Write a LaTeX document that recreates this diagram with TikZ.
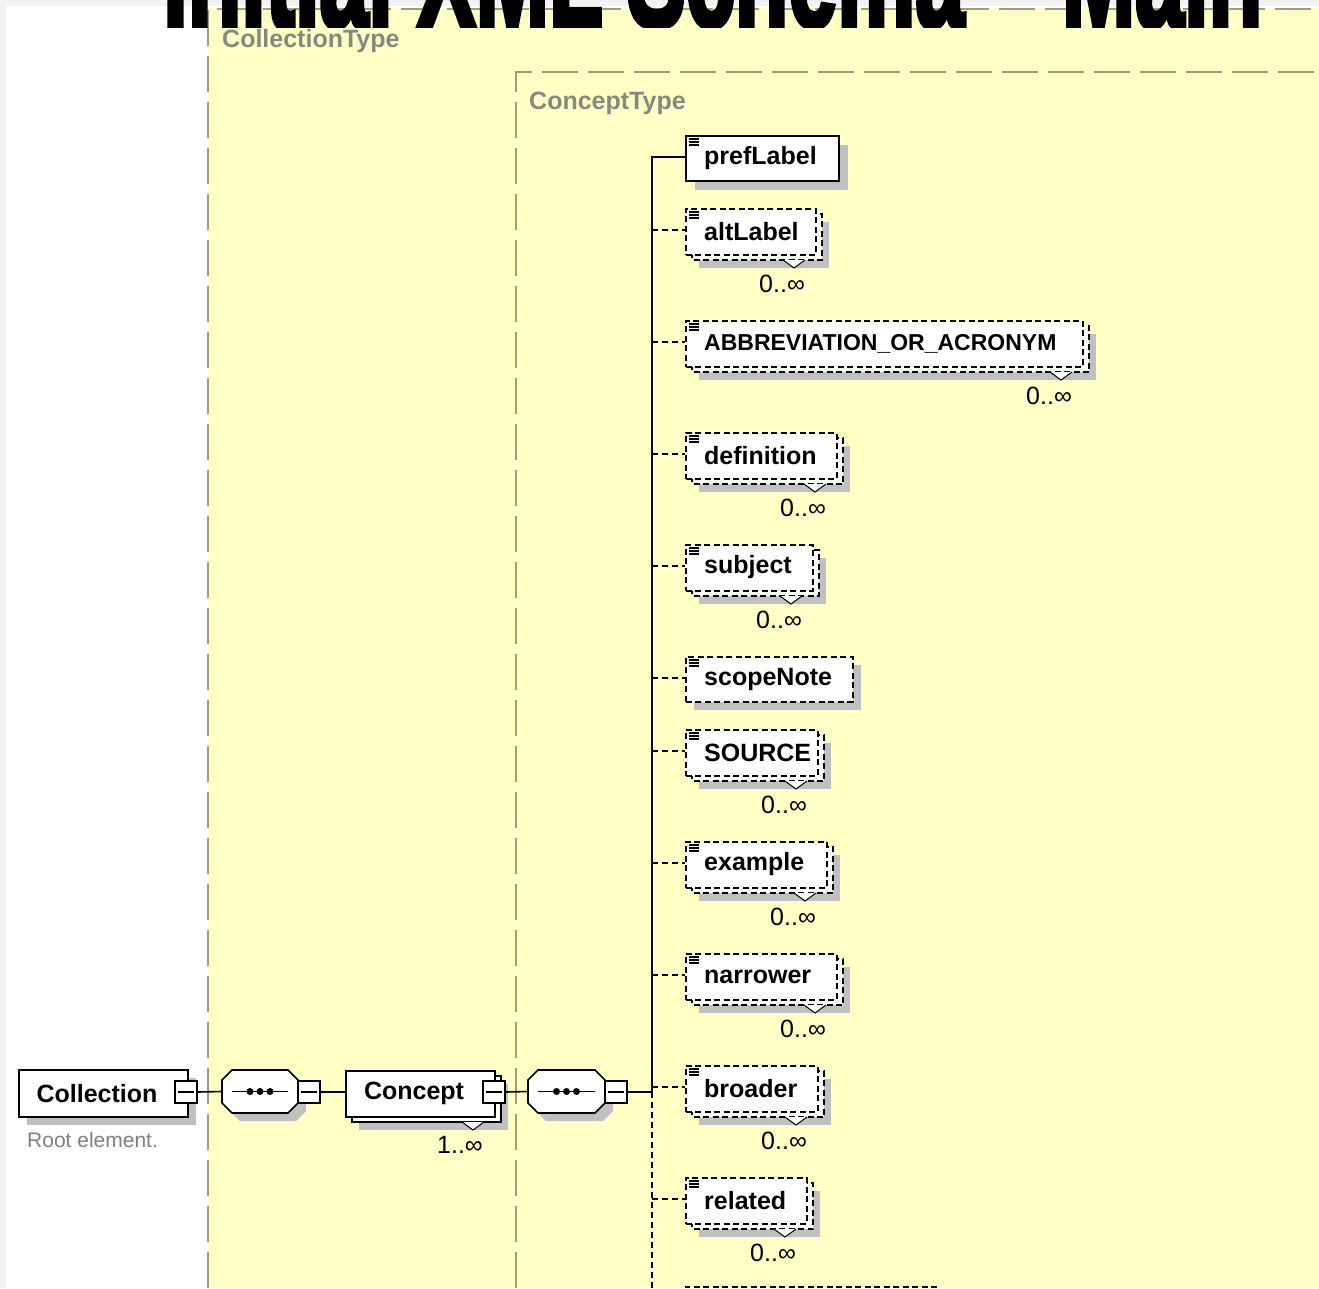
\documentclass[tikz,border=0pt]{standalone}
\usepackage{fontspec}
\setmainfont{Liberation Sans}
\newfontfamily\titlefont{Liberation Sans Bold}[FakeBold=4]
\usetikzlibrary{shadows}
\definecolor{ybg}{RGB}{255,255,198}
\definecolor{framec}{RGB}{160,156,124}
\definecolor{shadowc}{RGB}{192,192,192}
\definecolor{lblgray}{RGB}{136,136,128}
\definecolor{rootgray}{RGB}{128,128,128}
\definecolor{bandgray}{RGB}{242,242,242}
\newcommand{\pxsize}[1]{\fontsize{#1}{#1}\selectfont}
\newcommand{\eqicon}[2]{%
  \draw[line width=1.2pt] (689,#1) -- (#2,#1) (689,#1+3) -- (#2,#1+3) (689,#1+6) -- (#2,#1+6);}
% octagon outline: x1 y1 x2 y2
\newcommand{\octpath}[4]{(#1+10,#2) -- (#3-10,#2) -- (#3,#2+10) -- (#3,#4-10) -- (#3-10,#4) -- (#1+10,#4) -- (#1,#4-10) -- (#1,#2+10) -- cycle}
% name, x1, x2 (sequence compositor)
\newcommand{\seqcomp}[3]{%
  \fill[shadowc] \octpath{#2+8}{1078}{#3+8}{1121};
  \filldraw[fill=white,draw=black,line width=1.6pt] \octpath{#2}{1070}{#3}{1113};
  \node[minimum width=#3-#2,minimum height=43pt,inner sep=0pt] (#1) at ({(#2+#3)/2},1091.5) {};
  \draw[line width=1.4pt] ([xshift=10pt]#1.west) -- ([xshift=-10pt]#1.east);
  \fill ([xshift=-10pt]#1.center) circle (3.5pt) (#1.center) circle (3.5pt) ([xshift=10pt]#1.center) circle (3.5pt);
  \node[minusbox] (#1-minus) at (#3+11,1092) {};
  \draw[line width=1.4pt] ([xshift=4pt]#1-minus.west) -- ([xshift=-4pt]#1-minus.east);
}
% name, centre y, right x, text, font size
\newcommand{\multichild}[5]{%
  \fill[shadowc] (699,#2-8) rectangle (#3+14,#2+38);
  \draw[dbox] (692,#2-16) rectangle (#3+7,#2+30);
  \filldraw[fill=white,draw=black,line width=1pt] (#3-32,#2+30) -- (#3-21,#2+38) -- (#3-10,#2+30);
  \node[dbox,anchor=north west,minimum width=#3-685,minimum height=46pt] (#1) at (685,#2-22) {};
  \eqicon{#2-18}{699}
  \node[lbl,font=\pxsize{#5}\bfseries] (#1-text) at (704,#2) {#4};
  \node[multlbl] (#1-mult) at (#3-33,#2+54) {0..∞};
  \coordinate (#1-j) at (652,#2);
  \draw[dconn] (#1-j) -- (#1-j -| #1.west);
}
\begin{document}
\begin{tikzpicture}[x=1pt,y=-1pt,
  ebox/.style={draw=black,line width=1.6pt,fill=white,inner sep=0pt},
  dbox/.style={ebox,dash pattern=on 6pt off 3.5pt},
  conn/.style={draw=black,line width=1.6pt},
  dconn/.style={conn,dash pattern=on 6pt off 4pt},
  frameline/.style={draw=framec,line width=2.2pt,dash pattern=on 36pt off 10pt},
  lbl/.style={font=\pxsize{25}\bfseries,inner sep=0pt,anchor=west,yshift=-1.5pt},
  multlbl/.style={font=\pxsize{25},inner sep=0pt},
  typelbl/.style={font=\pxsize{25}\bfseries,text=lblgray,inner sep=0pt,anchor=west},
  minusbox/.style={draw=black,line width=1.4pt,fill=white,minimum size=22pt,inner sep=0pt},
  shadowed/.style={drop shadow={shadow xshift=#1,shadow yshift=-#1,fill=shadowc,opacity=1}},
]
\useasboundingbox (0,0) rectangle (1319,1288);
% background
\fill[bandgray] (0,0) rectangle (1319,1288);
\fill[white] (6,6) rectangle (1319,1288);
\fill[ybg] (208,8) rectangle (1319,1288);
\draw[frameline] (208,1288) -- (208,9) -- (1319,9);
\draw[frameline] (516,1288) -- (516,72) -- (1319,72);
\node[typelbl] (collectionType) at (222,41.5) {CollectionType};
\node[typelbl] (conceptType) at (529,103) {ConceptType};
% title (clipped at the top)
\begin{scope}
\clip (0,0) rectangle (1319,27.5);
\node[anchor=base west,inner sep=0pt] (title) at (163,26.5)
  {\raisebox{0pt}[\height][0pt]{\scalebox{0.586}[1]{\titlefont\pxsize{150}Initial XML Schema – Main}}};
\end{scope}

% Collection
\node[ebox,anchor=north west,minimum width=169pt,minimum height=47pt,shadowed=8pt] (collection) at (18,1069) {};
\node[lbl,anchor=center] (collection-text) at (97,1092) {Collection};
\node[minusbox] (collection-minus) at (186,1092) {};
\draw[line width=1.4pt] ([xshift=4pt]collection-minus.west) -- ([xshift=-4pt]collection-minus.east);
\node[font=\pxsize{21},text=rootgray,anchor=west,inner sep=0pt] (rootnote) at (27,1140) {Root element.};

% sequence 1
\seqcomp{seq1}{222}{298}

% Concept
\fill[shadowc] (359,1084) rectangle (508,1130);
\draw[ebox] (352,1076) rectangle (501,1122);
\filldraw[fill=white,draw=black,line width=1pt] (462,1122) -- (473,1130) -- (484,1122);
\node[ebox,anchor=north west,minimum width=149pt,minimum height=46pt] (concept) at (345,1070) {};
\node[lbl,anchor=center] (concept-text) at (414,1092) {Concept};
\node[minusbox] (concept-minus) at (494,1092) {};
\draw[line width=1.4pt] ([xshift=4pt]concept-minus.west) -- ([xshift=-4pt]concept-minus.east);
\node[multlbl] (concept-mult) at (460,1145) {1..∞};

% sequence 2
\seqcomp{seq2}{528}{605}

% trunk
\coordinate (trunkTop) at (652,157);
\coordinate (trunkMid) at (652,1092);
\coordinate (trunkEnd) at (652,1292);

% prefLabel
\node[ebox,anchor=north west,minimum width=153pt,minimum height=45pt,shadowed=9pt] (prefLabel) at (685,135) {};
\eqicon{139}{699}
\node[lbl] (prefLabel-text) at (704,157) {prefLabel};
\draw[conn] (prefLabel.west |- trunkTop) -- (trunkTop) -- (trunkMid);
\draw[dconn] (trunkMid) -- (trunkEnd);

\multichild{altLabel}{230}{815}{altLabel}{25}
\multichild{abbr}{342}{1082}{ABBREVIATION\_OR\_ACRONYM}{23}
\multichild{definition}{454}{836}{definition}{25}
\multichild{subject}{566}{812}{subject}{25}

% scopeNote
\node[dbox,anchor=north west,minimum width=167pt,minimum height=45pt,shadowed=8pt] (scopeNote) at (685,656) {};
\eqicon{660}{699}
\node[lbl] (scopeNote-text) at (704,678) {scopeNote};
\coordinate (scopeNote-j) at (652,678);
\draw[dconn] (scopeNote-j) -- (scopeNote-j -| scopeNote.west);

\multichild{source}{751}{817}{SOURCE}{25}
\multichild{example}{863}{826}{example}{25}
\multichild{narrower}{975}{836}{narrower}{25}
\multichild{broader}{1087}{817}{broader}{25}
\multichild{related}{1199}{806}{related}{25}

% partly visible next child
\node[dbox,anchor=north west,minimum width=250pt,minimum height=46pt] (nextChild) at (685,1286) {};

% main connectors
\draw[conn] (collection-minus.east) -- (seq1.west);
\draw[conn] (seq1-minus.east) -- (seq1-minus.east -| concept.west);
\draw[conn] (concept-minus.east) -- (seq2.west);
\draw[conn] (seq2-minus.east) -- (trunkMid);
\end{tikzpicture}
\end{document}
